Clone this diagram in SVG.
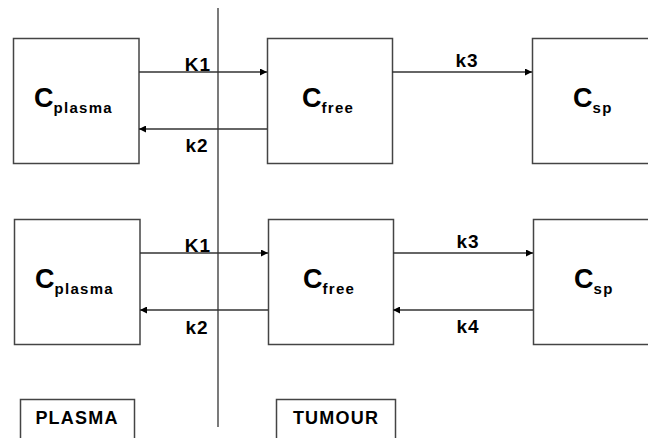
<svg xmlns="http://www.w3.org/2000/svg" width="648" height="438" viewBox="0 0 648 438">
<style>
.box{fill:#fff;stroke:#444;stroke-width:1.5}
.ln{stroke:#333;stroke-width:1.3;fill:none}
.c{font-family:"Liberation Sans",Arial,sans-serif;font-weight:bold;font-size:27px;fill:#000}
.sub{font-size:15px;letter-spacing:1.3px}
.lbl{font-family:"Liberation Sans",Arial,sans-serif;font-weight:bold;font-size:19px;fill:#000;text-anchor:middle;letter-spacing:1px}
.reg{font-family:"Liberation Sans",Arial,sans-serif;font-weight:bold;font-size:18px;fill:#000;text-anchor:middle;letter-spacing:1.2px}
</style>
<defs>
<marker id="ah" viewBox="0 0 10 10" refX="10" refY="5" markerWidth="9" markerHeight="7" markerUnits="userSpaceOnUse" orient="auto">
<path d="M0,0 L10,5 L0,10 z" fill="#000"/>
</marker>
</defs>
<rect width="648" height="438" fill="#fff"/>
<g id="divider"><line class="ln" x1="218" y1="8" x2="218" y2="427"/></g>
<g id="plasma1"><rect class="box" x="13.5" y="38.5" width="125.5" height="125"/><text class="c" x="34" y="107">C<tspan class="sub" dy="6">plasma</tspan></text></g>
<g id="free1"><rect class="box" x="267.5" y="38.5" width="125" height="125"/><text class="c" x="302" y="107">C<tspan class="sub" dy="6">free</tspan></text></g>
<g id="sp1"><rect class="box" x="532.5" y="38.5" width="125" height="125"/><text class="c" x="573" y="107">C<tspan class="sub" dy="6">sp</tspan></text></g>
<g id="plasma2"><rect class="box" x="14.5" y="219.5" width="125.5" height="125"/><text class="c" x="35" y="288">C<tspan class="sub" dy="6">plasma</tspan></text></g>
<g id="free2"><rect class="box" x="268.5" y="219.5" width="125" height="125"/><text class="c" x="303" y="288">C<tspan class="sub" dy="6">free</tspan></text></g>
<g id="sp2"><rect class="box" x="533.5" y="219.5" width="125" height="125"/><text class="c" x="574" y="288">C<tspan class="sub" dy="6">sp</tspan></text></g>
<g id="plasmaLabel"><rect class="box" x="20.5" y="399.5" width="114" height="50"/><text class="reg" x="77" y="424">PLASMA</text></g>
<g id="tumourLabel"><rect class="box" x="276.5" y="399.5" width="119" height="50"/><text class="reg" x="336" y="424">TUMOUR</text></g>
<g id="connectors">
<line class="ln" x1="139" y1="72" x2="267" y2="72" marker-end="url(#ah)"/>
<line class="ln" x1="267" y1="129" x2="139" y2="129" marker-end="url(#ah)"/>
<line class="ln" x1="392" y1="72" x2="532" y2="72" marker-end="url(#ah)"/>
<line class="ln" x1="140" y1="253" x2="268" y2="253" marker-end="url(#ah)"/>
<line class="ln" x1="268" y1="310" x2="140" y2="310" marker-end="url(#ah)"/>
<line class="ln" x1="393" y1="253" x2="533" y2="253" marker-end="url(#ah)"/>
<line class="ln" x1="533" y1="310" x2="393" y2="310" marker-end="url(#ah)"/>
<text class="lbl" x="198" y="71">K1</text>
<text class="lbl" x="197" y="152">k2</text>
<text class="lbl" x="467" y="67">k3</text>
<text class="lbl" x="198" y="252">K1</text>
<text class="lbl" x="197" y="334">k2</text>
<text class="lbl" x="468" y="248">k3</text>
<text class="lbl" x="468" y="333">k4</text>
</g>
</svg>
